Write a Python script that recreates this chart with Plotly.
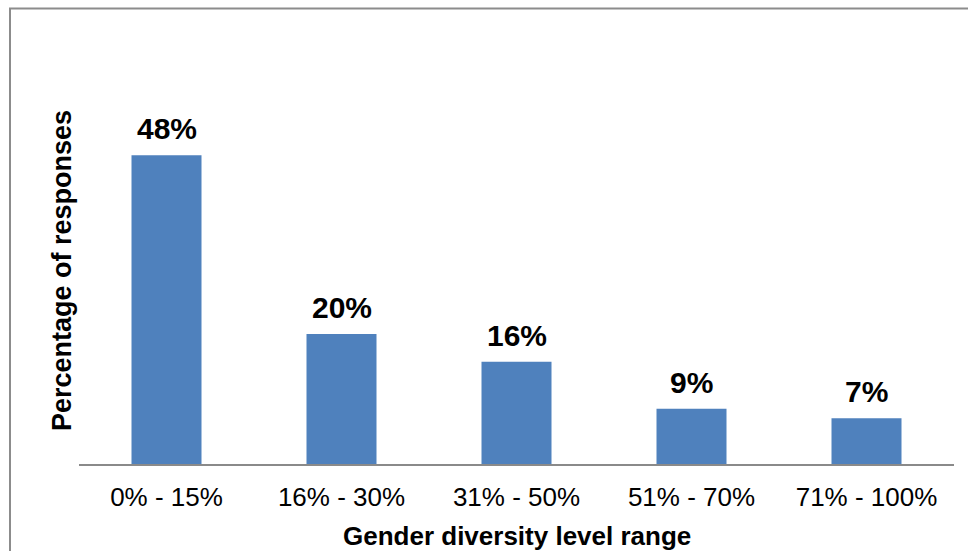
import plotly.graph_objects as go

categories = ["0% - 15%", "16% - 30%", "31% - 50%", "51% - 70%", "71% - 100%"]
values = [48, 20.2, 15.9, 8.6, 7.1]
x_title = "Gender diversity level range"
y_title = "Percentage of responses"

FONT = "Liberation Sans, Arial, sans-serif"
BAR = "#4F81BD"

fig = go.Figure(go.Bar(
    x=categories, y=values, marker=dict(color=BAR, line=dict(width=0)),
    width=0.4, hoverinfo="skip",
))

annotations = [
    dict(x=c, y=v, xref="x", yref="y", text=f"<b>{round(v)}%</b>", showarrow=False,
         yanchor="bottom", yshift=8, font=dict(family=FONT, size=30, color="#000"))
    for c, v in zip(categories, values)
]
annotations.append(dict(x=0.5, y=-0.187, xref="paper", yref="paper", text=f"<b>{x_title}</b>",
                        showarrow=False, yanchor="middle", font=dict(family=FONT, size=26, color="#000")))
annotations.append(dict(x=(62 - 79) / 875, y=0.5, xref="paper", yref="paper", text=f"<b>{y_title}</b>",
                        showarrow=False, textangle=-90, xanchor="center",
                        font=dict(family=FONT, size=27, color="#000")))

fig.update_layout(
    width=968, height=551,
    margin=dict(l=79, r=14, t=78, b=87),
    paper_bgcolor="white", plot_bgcolor="white",
    showlegend=False,
    annotations=annotations,
    bargap=0.6,
    xaxis=dict(showline=True, linecolor="#8a8a8a", linewidth=2, showgrid=False,
               ticks="outside", ticklen=9, tickcolor="rgba(0,0,0,0)",
               tickfont=dict(family=FONT, size=26, color="#000"), zeroline=False),
    yaxis=dict(range=[0, 60], showgrid=False, showticklabels=False, showline=False,
               zeroline=False, ticks=""),
    shapes=[dict(type="rect", xref="paper", yref="paper",
                 x0=(10 - 79) / 875, x1=1.2, y0=-0.5, y1=(464.5 - 9) / 386,
                 line=dict(color="#8c8c8c", width=2), fillcolor="rgba(0,0,0,0)", layer="below")],
)

fig.write_html("out.html")
